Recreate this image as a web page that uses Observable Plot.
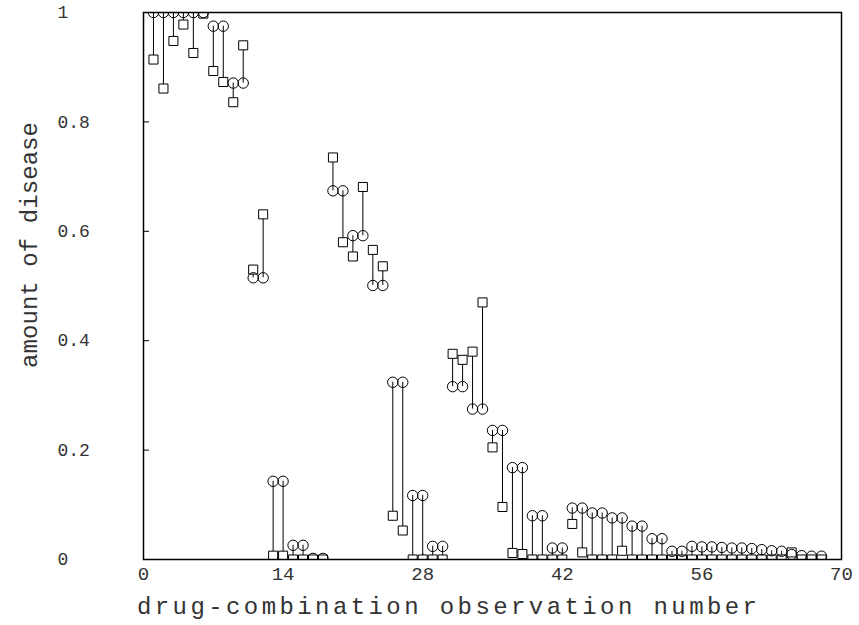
<!DOCTYPE html>
<html>
<head>
<meta charset="utf-8">
<script src="https://cdn.jsdelivr.net/npm/d3@7"></script>
<script src="https://cdn.jsdelivr.net/npm/@observablehq/plot@0.6"></script>
<style>
  html, body { margin: 0; padding: 0; background: #fff; }
  #chart svg { display: block; }
</style>
</head>
<body>
<div id="chart"></div>
<script>
// observation numbers
const obs = [1,2,3,4,5,6,7,8,9,10,11,12,13,14,15,16,17,18,19,20,21,22,23,24,25,26,27,28,29,30,31,32,33,34,
  35,36,37,38,39,40,41,42,43,44,45,46,47,48,49,50,51,52,53,54,55,56,57,58,59,60,61,62,63,64,65,66,67,68];
// circle series (amount of disease)
const circleVals = [1.0,1.0,1.0,1.0,1.0,1.0,0.975,0.975,0.871,0.871,0.515,0.515,0.143,0.143,0.026,0.026,0.002,0.002,
  0.674,0.674,0.592,0.592,0.501,0.501,0.324,0.324,0.117,0.117,0.024,0.024,0.316,0.316,0.275,0.275,
  0.236,0.236,0.168,0.168,0.080,0.080,0.021,0.021,0.094,0.094,0.085,0.085,0.076,0.076,0.061,0.061,
  0.038,0.038,0.015,0.015,0.024,0.023,0.023,0.022,0.021,0.021,0.020,0.018,0.016,0.015,0.009,0.007,0.006,0.006];
// square series (amount of disease)
const squareVals = [0.914,0.861,0.948,0.978,0.926,0.998,0.893,0.873,0.836,0.940,0.530,0.631,0.007,0.007,0,0,0,0,
  0.735,0.580,0.554,0.681,0.566,0.536,0.080,0.053,0,0,0,0,0.376,0.365,0.380,0.470,
  0.205,0.096,0.012,0.010,0,0,0,0,0.065,0.013,0,0,0,0.016,0,0,
  0,0,0,0,0,0,0,0,0,0,0,0,0,0,0.013,0,0,0];
const xTicks = [0, 14, 28, 42, 56, 70];
const yTicks = [0, 0.2, 0.4, 0.6, 0.8, 1];
const xLabel = "drug-combination observation number";
const yLabel = "amount of disease";

const data = obs.map((o, i) => ({obs: o, circle: circleVals[i], square: squareVals[i]}));
const font = "Liberation Mono, DejaVu Sans Mono, monospace";

const chart = Plot.plot({
  width: 859,
  height: 625,
  marginLeft: 143,
  marginRight: 18,
  marginTop: 12,
  marginBottom: 66,
  style: {fontFamily: font, background: "#fff", color: "#000"},
  x: {domain: [0, 70]},
  y: {domain: [0, 1]},
  marks: [
    Plot.axisY(yTicks, {tickSize: -6, fill: "none", label: null, strokeWidth: 1}),
    Plot.axisX(xTicks, {tickSize: -6, fill: "none", label: null, strokeWidth: 1}),
    Plot.ruleX(data, {x: "obs", y1: "circle", y2: "square", stroke: "#000", strokeWidth: 1, clip: true}),
    Plot.dot(data, {x: "obs", y: "square", symbol: "square", r: 5.1, stroke: "#000", fill: "#fff", strokeWidth: 1, clip: true}),
    Plot.dot(data, {x: "obs", y: "circle", symbol: "circle", r: 5.2, stroke: "#000", fill: "none", strokeWidth: 1, clip: true}),
    Plot.frame({stroke: "#000", strokeWidth: 1.5}),
    Plot.text(yTicks, {y: d => d, text: d => String(d), frameAnchor: "left", dx: -86, textAnchor: "start",
      fontSize: 18, fill: "#333"}),
    Plot.text(xTicks, {x: d => d, text: d => String(d), frameAnchor: "bottom", dy: 20,
      fontSize: 19, fill: "#333"})
  ]
});

const svg = d3.select(chart);
svg.append("text")
  .attr("x", 447).attr("y", 614)
  .attr("text-anchor", "middle")
  .attr("font-family", font).attr("font-size", 24).attr("fill", "#333")
  .attr("textLength", 620).attr("lengthAdjust", "spacing")
  .text(xLabel);
svg.append("text")
  .attr("transform", "translate(37,245) rotate(-90)")
  .attr("text-anchor", "middle")
  .attr("font-family", font).attr("font-size", 24).attr("fill", "#333")
  .attr("textLength", 246).attr("lengthAdjust", "spacing")
  .text(yLabel);

document.getElementById("chart").appendChild(chart);
</script>
</body>
</html>
